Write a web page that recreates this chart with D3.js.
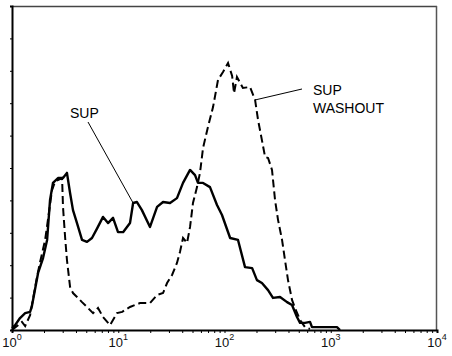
<!DOCTYPE html>
<html>
<head>
<meta charset="utf-8">
<script src="https://cdn.jsdelivr.net/npm/d3@7"></script>
<style>
  body { margin: 0; background: #fff; }
  svg { display: block; font-family: "Liberation Sans", Arial, sans-serif; }
</style>
</head>
<body>
<svg id="chart" width="452" height="356"></svg>
<script>
// fluorescence (log) and cell counts
const supX = [1.00, 1.07, 1.19, 1.33, 1.48, 1.54, 1.76, 1.96, 2.14, 2.28, 2.43, 2.71, 3.02, 3.29, 3.52, 3.75,
  4.09, 4.56, 5.08, 5.66, 6.31, 7.19, 8.01, 8.93, 9.95, 11.1, 12.9, 13.8, 15.0, 16.7, 19.9, 23.2, 26.4, 30.7,
  35.7, 40.7, 47.4, 52.8, 56.3, 62.8, 73.0, 85.0, 94.7, 113, 134, 156, 182, 202, 225, 257, 286, 333, 388,
  432, 481, 514, 572, 638, 666, 984, 1145, 1222];
const supY = [0.6, 1.5, 3.7, 5.2, 5.6, 7.4, 17.6, 22.2, 27.8, 40.1, 45.4, 46.9, 46.9, 48.5, 42.3, 37.0,
  33.0, 27.8, 27.2, 28.4, 31.3, 34.9, 33.0, 34.6, 30.2, 30.2, 33.0, 39.2, 39.5, 37.0, 31.8, 38.0, 39.5, 39.2,
  40.7, 45.4, 49.4, 47.8, 45.4, 45.4, 44.1, 38.6, 35.5, 28.4, 27.8, 19.4, 19.1, 15.4, 14.5, 12.3, 9.9, 10.2, 8.6,
  7.7, 4.0, 2.2, 2.2, 2.5, 0.9, 0.9, 0.9, 0];

const washX = [1.00, 1.14, 1.24, 1.33, 1.48, 1.72, 1.83, 2.05, 2.28, 2.38, 2.54, 2.71, 2.96, 3.02, 3.16, 3.29,
  3.52, 3.75, 4.09, 4.56, 5.08, 5.79, 6.45, 7.19, 8.36, 9.73, 10.9, 11.6, 12.9, 16.0, 19.9, 23.2, 26.4, 28.8,
  32.1, 35.7, 38.1, 40.7, 44.4, 47.4, 50.5, 55.1, 58.8, 62.8, 69.9, 78.0, 86.9, 96.8, 108, 118, 123, 131,
  149, 174, 194, 207, 225, 241, 257, 280, 299, 319, 348, 371, 396, 432, 461, 514, 572, 638];
const washY = [0, 1.5, 2.5, 1.2, 4.6, 16.4, 20.7, 27.8, 38.6, 43.2, 45.7, 46.3, 46.9, 38.0, 28.7, 21.6,
  13.3, 11.4, 10.2, 8.6, 7.1, 5.2, 6.8, 4.0, 1.5, 5.2, 5.6, 6.2, 7.1, 8.3, 8.3, 10.8, 11.4, 14.5,
  17.0, 20.7, 24.1, 28.4, 26.9, 31.8, 39.2, 44.1, 48.5, 56.2, 62.7, 68.8, 77.2, 79.6, 82.4, 78.4, 73.1, 78.1,
  74.7, 75.0, 71.0, 64.8, 58.6, 53.4, 53.1, 49.4, 40.1, 34.0, 27.8, 21.6, 15.4, 9.3, 6.8, 3.1, 0.9, 0.3];

const decades = [0, 1, 2, 3, 4];
const labels = ["SUP", "SUP|WASHOUT"];

const svg = d3.select('#chart');
const mLeft = 12, mRight = 437, mTop = 6, mBottom = 330;

const x = d3.scaleLog().domain([1, 1e4]).range([mLeft, mRight]);
const y = d3.scaleLinear().domain([0, 100]).range([mBottom, mTop]);

// frame
svg.append('line').attr('x1', mLeft).attr('x2', mRight).attr('y1', mTop + 0.5).attr('y2', mTop + 0.5)
  .attr('stroke', '#444').attr('stroke-width', 1.5);
svg.append('line').attr('x1', mRight - 0.5).attr('x2', mRight - 0.5).attr('y1', mTop).attr('y2', mBottom)
  .attr('stroke', '#555').attr('stroke-width', 1.5);

// bottom axis with minor log ticks
const xAxis = d3.axisBottom(x).tickValues(x.ticks()).tickSize(3).tickFormat('');
const gx = svg.append('g').attr('transform', `translate(0,${mBottom})`).call(xAxis);
gx.select('.domain').attr('stroke', '#000').attr('stroke-width', 2);
gx.selectAll('.tick line').attr('stroke', '#000').attr('stroke-width', 1);

// left axis
const yAxis = d3.axisLeft(y).ticks(10).tickSize(2).tickFormat('');
const gy = svg.append('g').attr('transform', `translate(${mLeft},0)`).call(yAxis);
gy.select('.domain').attr('stroke', '#000').attr('stroke-width', 2);
gy.selectAll('.tick line').attr('stroke', '#000');

// decade labels 10^n
decades.forEach(d => {
  const t = svg.append('text')
    .attr('x', x(Math.pow(10, d)))
    .attr('y', 347)
    .attr('text-anchor', 'middle')
    .attr('font-size', 13)
    .attr('fill', '#111');
  t.append('tspan').text('10');
  t.append('tspan').attr('dy', -7).attr('font-size', 9).text(d);
});

const line = d3.line().x(d => x(d[0])).y(d => y(d[1]));

svg.append('path')
  .datum(washX.map((v, i) => [v, washY[i]]))
  .attr('d', line)
  .attr('fill', 'none')
  .attr('stroke', '#000')
  .attr('stroke-width', 2)
  .attr('stroke-dasharray', '8,4');

svg.append('path')
  .datum(supX.map((v, i) => [v, supY[i]]))
  .attr('d', line)
  .attr('fill', 'none')
  .attr('stroke', '#000')
  .attr('stroke-width', 2.4)
  .attr('stroke-linejoin', 'round');

// labels with leader lines
const supPt = [supX[27], supY[27]];
svg.append('line')
  .attr('x1', 88).attr('y1', 122)
  .attr('x2', x(supPt[0])).attr('y2', y(supPt[1]))
  .attr('stroke', '#000').attr('stroke-width', 1);
svg.append('text').attr('x', 70).attr('y', 118).attr('font-size', 14).text(labels[0]);

const washPt = [washX[54], washY[54]];
svg.append('line')
  .attr('x1', 302).attr('y1', 89)
  .attr('x2', x(washPt[0])).attr('y2', y(washPt[1]))
  .attr('stroke', '#000').attr('stroke-width', 1);
const wt = svg.append('text').attr('font-size', 14);
labels[1].split('|').forEach((s, i) => {
  wt.append('tspan').attr('x', 313).attr('y', 95 + i * 18).text(s);
});
</script>
</body>
</html>
